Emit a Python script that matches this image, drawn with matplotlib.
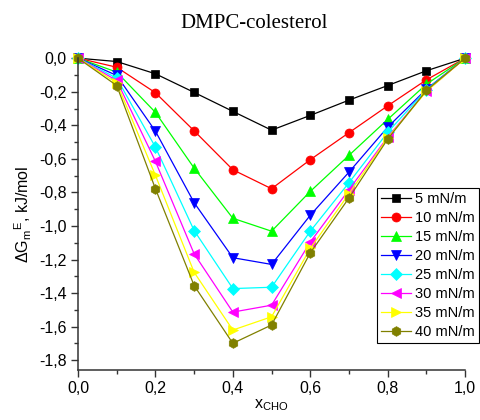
import numpy as np
from matplotlib import pyplot as plt
from matplotlib.ticker import MultipleLocator, FuncFormatter

# ---------------------------------------------------------------------------
# data
# ---------------------------------------------------------------------------
x_cho = [0.0, 0.1, 0.2, 0.3, 0.4, 0.5, 0.6, 0.7, 0.8, 0.9, 1.0]

g_5 = [0.0, -0.020, -0.093, -0.204, -0.317, -0.429, -0.341, -0.250, -0.163, -0.075, 0.0]
g_10 = [0.0, -0.054, -0.206, -0.433, -0.665, -0.778, -0.605, -0.444, -0.284, -0.129, 0.0]
g_15 = [0.0, -0.083, -0.323, -0.655, -0.954, -1.031, -0.794, -0.579, -0.365, -0.155, 0.0]
g_20 = [0.0, -0.103, -0.435, -0.861, -1.189, -1.229, -0.936, -0.679, -0.411, -0.185, 0.0]
g_25 = [0.0, -0.119, -0.530, -1.027, -1.373, -1.365, -1.031, -0.742, -0.442, -0.188, 0.0]
g_30 = [0.0, -0.133, -0.615, -1.166, -1.513, -1.472, -1.096, -0.784, -0.470, -0.196, 0.0]
g_35 = [0.0, -0.147, -0.698, -1.276, -1.620, -1.541, -1.134, -0.808, -0.475, -0.198, 0.0]
g_40 = [0.0, -0.163, -0.778, -1.355, -1.699, -1.590, -1.160, -0.833, -0.482, -0.192, 0.0]

labels = ["5 mN/m", "10 mN/m", "15 mN/m", "20 mN/m",
          "25 mN/m", "30 mN/m", "35 mN/m", "40 mN/m"]
series = [g_5, g_10, g_15, g_20, g_25, g_30, g_35, g_40]
colors = ["#000000", "#FF0000", "#00FF00", "#0000FF",
          "#00FFFF", "#FF00FF", "#FFFF00", "#808000"]
markers = ["s", "o", "^", "v", "D", "<", ">", "h"]
msizes = [6, 6.5, 7, 7, 6, 7, 7, 7]

plt.rcParams['font.family'] = ['Liberation Sans', 'DejaVu Sans']
plt.rcParams['mathtext.default'] = 'regular'

fig = plt.figure(figsize=(4.8, 4.2), dpi=100)
ax = fig.add_axes([0.1625, 0.1195, 0.8065, 0.742])

for yv, lab, col, mk, ms in zip(series, labels, colors, markers, msizes):
    ax.plot(x_cho, yv, color=col, marker=mk, markersize=ms, lw=0.9,
            markeredgewidth=0.5, markeredgecolor=col, label=lab, clip_on=False)

ax.set_xlim(0.0, 1.0)
ax.set_ylim(-1.857, 0.0)

# Origin style axes: left + bottom only, ticks outward
for side in ["top", "right"]:
    ax.spines[side].set_visible(False)
for side in ["left", "bottom"]:
    ax.spines[side].set_linewidth(1.1)
    ax.spines[side].set_color("#333333")

ax.xaxis.set_major_locator(MultipleLocator(0.2))
ax.xaxis.set_minor_locator(MultipleLocator(0.1))
ax.yaxis.set_major_locator(MultipleLocator(0.2))
ax.yaxis.set_minor_locator(MultipleLocator(0.1))
comma = FuncFormatter(lambda v, p: ("%.1f" % v).replace(".", ",").replace("-0,0", "0,0"))
ax.xaxis.set_major_formatter(comma)
ax.yaxis.set_major_formatter(comma)
ax.tick_params(which="major", direction="out", length=5, width=1.0,
               labelsize=11.5, colors="#333333", labelcolor="black", pad=3)
ax.tick_params(which="minor", direction="out", length=3, width=1.0, colors="#333333")

ax.set_xlabel(r"x$_{CHO}$", fontsize=11.5, labelpad=1)
ax.set_ylabel(r"$\Delta$G$_m$$^E$, kJ/mol", fontsize=11.5, labelpad=4)

fig.text(0.53, 0.945, "DMPC-colesterol", family="Liberation Serif",
         fontsize=15, ha="center", va="center")

# legend box runs off the right edge, as in the reference
leg = ax.legend(loc="upper left", bbox_to_anchor=(377 / 480, 1 - 188 / 420),
                bbox_transform=fig.transFigure, fontsize=10.5, frameon=True,
                fancybox=False, edgecolor="black", framealpha=1,
                handlelength=2.0, handletextpad=0.3, labelspacing=0.34,
                borderpad=0.3, borderaxespad=0)
leg.get_frame().set_linewidth(0.8)

fig.savefig("out.png", dpi=100)
